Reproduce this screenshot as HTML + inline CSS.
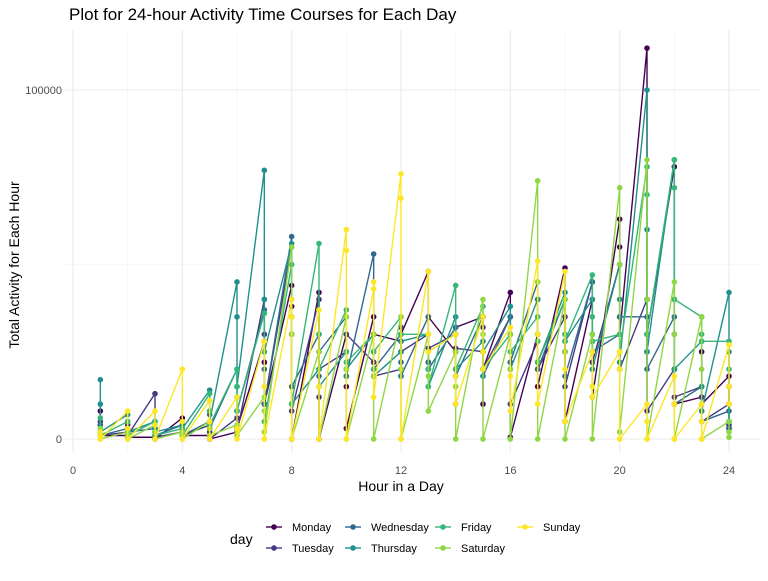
<!DOCTYPE html>
<html><head><meta charset="utf-8"><style>
body{margin:0;background:#fff;font-family:"Liberation Sans",sans-serif}
</style></head><body>
<svg id="chart" width="768" height="576" xmlns="http://www.w3.org/2000/svg" font-family="Liberation Sans, sans-serif">
<text x="69" y="20" font-size="17" fill="#000">Plot for 24-hour Activity Time Courses for Each Day</text>
<g id="grid"></g>
<g id="series"></g>
<g id="axes"></g>
<text x="401" y="491" font-size="14" text-anchor="middle">Hour in a Day</text>
<text transform="translate(19,265) rotate(-90)" font-size="14" text-anchor="middle">Total Activity for Each Hour</text>
<g id="legend"></g>
</svg>
<script>
const dayNames=["Monday","Tuesday","Wednesday","Thursday","Friday","Saturday","Sunday"];
const dayColors=["#440154","#443A83","#31688E","#21908C","#35B779","#8FD744","#FDE725"];
const xTicks=[0,4,8,12,16,20,24];
const yTicks=[0,100000];
// values in thousands, per hour 1..24
const monday=[[8,4,1],[1,3,0.5],[0.5,3,0],[6,2,1],[1,3,0],[2,8,3],[28,22,10],[44,38,30,0],[42,20,0],[30,15,3],[35,22,30],[28,18,30],[48,20,35],[25,10,32],[35,10,20],[42,30,0.5],[30,40,15],[49,25,5],[40,22,12],[63,55,30],[112,40,30],[78,20,10],[12,25,10],[18,15,3]];
const tuesday=[[5,2,1],[2,4,1],[13,5,0.5],[2,3,1],[4,2,0],[6,3,2],[40,30,10],[55,35,8],[40,12,20],[25,18,30],[22,30,18],[20,32,25],[30,22,26],[30,18,26],[25,32,20],[35,22,10],[28,40,20],[35,25,15],[45,28,22],[50,35,20],[40,25,8],[20,30,12],[15,12,5],[10,4,3]];
const wednesday=[[4,2,1],[3,5,2],[3,2,1],[4,2,1],[5,7,3],[20,12,8],[37,20,10],[58,30,15],[30,18,25],[35,20,18],[53,25,20],[30,22,18],[35,22,20],[32,20,18],[35,25,18],[35,20,22],[45,30,20],[40,28,18],[45,30,25],[30,20,35],[35,30,20],[35,20,10],[15,8,5],[8,5,3]];
const thursday=[[17,10,2],[7,3,2],[5,3,2],[4,2,3],[14,8,5],[45,35,15],[77,40,25],[56,40,10],[20,30,15],[25,18,20],[30,20,18],[25,18,28],[30,20,15],[35,25,20],[28,18,25],[38,30,20],[40,30,22],[42,30,28],[40,30,20],[50,40,22],[100,60,25],[80,40,20],[28,15,8],[42,25,5]];
const friday=[[6,3,1],[5,2,1],[5,2,1],[3,2,1],[13,8,4],[20,15,8],[36,25,5],[50,30,10],[56,30,20],[37,25,22],[30,20,25],[35,20,30],[30,20,15],[44,30,20],[38,25,20],[30,20,25],[35,28,22],[40,30,28],[47,35,28],[30,20,25],[78,70,30],[80,72,40],[35,30,28],[28,20,5]];
const saturday=[[3,1,0],[2,1,0],[4,2,0],[2,1,0],[5,3,1],[4,2,1],[12,8,2],[55,30,0],[25,15,0],[35,20,0],[30,18,0],[35,20,0],[30,18,8],[25,15,0],[40,30,0],[30,20,0],[74,45,0],[40,25,0],[30,15,0],[72,50,2],[80,40,0],[45,30,0],[35,20,0],[5,2,0.5]];
const sunday=[[2,1,0],[8,3,0],[8,4,0],[20,5,0],[11,5,0],[12,3,0],[28,15,0],[40,35,0],[37,15,0],[60,54,0],[43,45,12],[76,69,0],[48,30,25],[30,18,10],[35,25,20],[32,18,8],[51,30,10],[48,20,5],[25,15,12],[25,20,0],[10,5,0],[18,10,0],[10,5,0],[27,15,10]];
const allDays=[monday,tuesday,wednesday,thursday,friday,saturday,sunday];
const NS="http://www.w3.org/2000/svg";
const X0=73,X1=729,Y0=439,Y1=90;
function xs(h){return X0+(h/24)*(X1-X0);}
function ys(v){return Y0-(v/100000)*(Y0-Y1);}
function mk(tag,attrs,parent){const e=document.createElementNS(NS,tag);for(const k in attrs)e.setAttribute(k,attrs[k]);parent.appendChild(e);return e;}
const grid=document.getElementById('grid'),axes=document.getElementById('axes'),series=document.getElementById('series'),legend=document.getElementById('legend');
for(let h=2;h<24;h+=4){const l=mk('line',{x1:xs(h),x2:xs(h),y1:30,y2:452,stroke:'#f2f2f2','stroke-width':0.6},grid);}
{const l=mk('line',{x1:65,x2:760,y1:ys(50000),y2:ys(50000),stroke:'#f2f2f2','stroke-width':0.6},grid);}
xTicks.forEach(t=>{const l=mk('line',{x1:xs(t),x2:xs(t),y1:30,y2:452,stroke:'#ebebeb','stroke-width':1.1},grid);
const tx=mk('text',{x:xs(t),y:474,'font-size':11,fill:'#4d4d4d','text-anchor':'middle'},axes);tx.textContent=t;});
yTicks.forEach(t=>{const l=mk('line',{x1:65,x2:760,y1:ys(t),y2:ys(t),stroke:'#ebebeb','stroke-width':1.1},grid);
const tx=mk('text',{x:62,y:ys(t)+4,'font-size':11,fill:'#4d4d4d','text-anchor':'end'},axes);tx.textContent=t;});
allDays.forEach((d,i)=>{const g=mk('g',{},series);
const pts=[];d.forEach((vals,hi)=>vals.forEach(v=>pts.push([xs(hi+1),ys(v*1000)])));
const p=mk('polyline',{points:pts.map(p=>p.join(',')).join(' '),fill:'none',stroke:dayColors[i],'stroke-width':1.4},g);
pts.forEach(q=>{const c=mk('circle',{cx:q[0],cy:q[1],r:2.8,fill:dayColors[i]},g);});});
{const t=mk('text',{x:230,y:544,'font-size':14},legend);t.textContent='day';}
const lx=[266,266,345,345,435,435,517],ly=[527,548,527,548,527,548,527];
dayNames.forEach((n,i)=>{const g=mk('g',{},legend);
mk('line',{x1:lx[i],x2:lx[i]+16,y1:ly[i],y2:ly[i],stroke:dayColors[i],'stroke-width':1.4},g);
mk('circle',{cx:lx[i]+8,cy:ly[i],r:2.8,fill:dayColors[i]},g);
const t=mk('text',{x:lx[i]+26,y:ly[i]+4,'font-size':11},g);t.textContent=n;});
</script>
</body></html>
